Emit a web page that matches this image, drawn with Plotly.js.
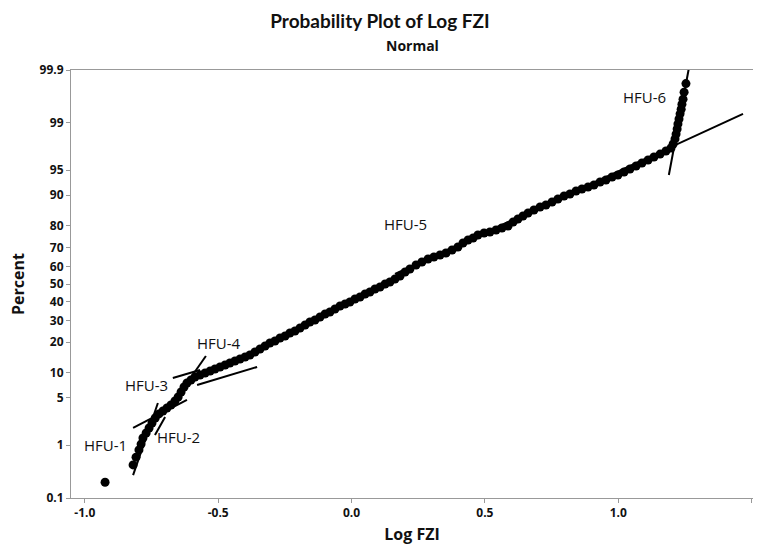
<!DOCTYPE html>
<html>
<head>
<meta charset="utf-8">
<script src="https://cdn.plot.ly/plotly-3.0.1.min.js"></script>
<style>html,body{margin:0;padding:0;background:#fff;}#chart{width:760px;height:547px;}</style>
</head>
<body>
<div id="chart"></div>
<script>
// ---- Data (Log FZI vs cumulative percent) ----
const logFZI = [
  -0.924, -0.819, -0.808, -0.797, -0.789, -0.782, -0.770, -0.759, -0.748, -0.736,
  -0.722, -0.707, -0.692, -0.677, -0.662, -0.650, -0.639, -0.628, -0.617, -0.602,
  -0.587, -0.568, -0.549, -0.530, -0.512, -0.493, -0.474, -0.456, -0.437, -0.418,
  -0.399, -0.381, -0.362, -0.343, -0.324, -0.306, -0.287, -0.268, -0.249, -0.231,
  -0.212, -0.193, -0.174, -0.156, -0.137, -0.118, -0.099, -0.081, -0.062, -0.043,
  -0.024, -0.006, 0.013, 0.032, 0.051, 0.069, 0.088, 0.107, 0.126, 0.144,
  0.163, 0.182, 0.201, 0.219, 0.242, 0.264, 0.287, 0.309, 0.332, 0.354,
  0.377, 0.399, 0.418, 0.437, 0.456, 0.474, 0.497, 0.519, 0.542, 0.564,
  0.587, 0.606, 0.624, 0.643, 0.662, 0.684, 0.707, 0.729, 0.752, 0.774,
  0.797, 0.819, 0.842, 0.864, 0.887, 0.909, 0.932, 0.954, 0.977, 0.999,
  1.022, 1.044, 1.067, 1.089, 1.112, 1.134, 1.157, 1.179, 1.198, 1.206,
  1.213, 1.217, 1.221, 1.224, 1.228, 1.232, 1.236, 1.239, 1.243, 1.247, 1.254
];
const percent = [
  0.21, 0.45, 0.62, 0.83, 1.04, 1.31, 1.57, 1.88, 2.24, 2.65,
  3.03, 3.33, 3.67, 4.03, 4.56, 5.14, 5.95, 6.85, 7.65, 8.29,
  8.97, 9.45, 9.94, 10.46, 10.99, 11.54, 12.10, 12.70, 13.31, 13.94,
  14.60, 15.27, 16.31, 17.41, 18.54, 19.71, 20.53, 21.78, 22.63, 23.97,
  24.86, 26.27, 27.69, 29.15, 30.15, 31.70, 33.25, 34.31, 35.90, 37.53,
  38.63, 39.74, 41.41, 42.56, 44.27, 45.38, 47.13, 48.28, 50.00, 51.15,
  52.87, 54.62, 56.87, 58.59, 60.80, 62.47, 64.10, 65.17, 66.24, 67.29,
  68.83, 70.33, 72.31, 73.73, 74.67, 76.03, 76.92, 77.37, 78.22, 79.07,
  79.87, 81.46, 82.59, 83.69, 84.73, 85.73, 86.69, 87.31, 88.18, 89.01,
  89.81, 90.30, 91.04, 91.50, 91.94, 92.35, 92.96, 93.34, 93.88, 94.22,
  94.71, 95.16, 95.58, 95.97, 96.33, 96.67, 96.97, 97.26, 97.52, 97.84,
  98.19, 98.48, 98.74, 98.96, 99.14, 99.30, 99.42, 99.53, 99.62, 99.72, 99.81
];

// Fitted lines for each hydraulic flow unit: [x1, x2] and [p1, p2]
const fitNames = ["HFU-1", "HFU-2", "HFU-2b", "HFU-3", "HFU-3b", "HFU-4", "HFU-5", "HFU-6"];
const fitX = [
  [-0.819, -0.726],
  [-0.819, -0.617],
  [-0.737, -0.699],
  [-0.643, -0.546],
  [-0.670, -0.568],
  [-0.579, -0.354],
  [0.163, 1.468],
  [1.190, 1.265]
];
const fitP = [
  [0.29, 4.29],
  [1.88, 4.70],
  [1.46, 2.74],
  [5.78, 14.92],
  [8.74, 10.71],
  [7.24, 11.54],
  [55.74, 99.30],
  [94.22, 99.909]
];

// Group labels
const labelText = ["HFU-1", "HFU-2", "HFU-3", "HFU-4", "HFU-5", "HFU-6"];
const labelX = [-0.924, -0.650, -0.770, -0.497, 0.201, 1.100];
const labelP = [1.00, 1.36, 7.24, 19.71, 80.68, 99.65];

// Probability-scale ticks
const tickPercents = [0.1, 1, 5, 10, 20, 30, 40, 50, 60, 70, 80, 90, 95, 99, 99.9];
const tickLabels = ["0.1", "1", "5", "10", "20", "30", "40", "50", "60", "70", "80", "90", "95", "99", "99.9"];
const xTicks = [-1.0, -0.5, 0.0, 0.5, 1.0, 1.5];
const xTickLabels = ["-1.0", "-0.5", "0.0", "0.5", "1.0", "1.5"];

// ---- Normal probability scale (inverse normal CDF, Acklam) ----
function normInv(p) {
  const a = [-3.969683028665376e+01, 2.209460984245205e+02, -2.759285104469687e+02, 1.383577518672690e+02, -3.066479806614716e+01, 2.506628277459239e+00];
  const b = [-5.447609879822406e+01, 1.615858368580409e+02, -1.556989798598866e+02, 6.680131188771972e+01, -1.328068155288572e+01];
  const c = [-7.784894002430293e-03, -3.223964580411365e-01, -2.400758277161838e+00, -2.549671010243050e+00, 4.374664141464968e+00, 2.938163982698783e+00];
  const d = [7.784695709041462e-03, 3.224671290700398e-01, 2.445134137142996e+00, 3.754408661907416e+00];
  const pl = 0.02425, ph = 1 - pl;
  let q, r;
  if (p < pl) {
    q = Math.sqrt(-2 * Math.log(p));
    return (((((c[0]*q+c[1])*q+c[2])*q+c[3])*q+c[4])*q+c[5]) / ((((d[0]*q+d[1])*q+d[2])*q+d[3])*q+1);
  } else if (p <= ph) {
    q = p - 0.5; r = q * q;
    return (((((a[0]*r+a[1])*r+a[2])*r+a[3])*r+a[4])*r+a[5])*q / (((((b[0]*r+b[1])*r+b[2])*r+b[3])*r+b[4])*r+1);
  } else {
    q = Math.sqrt(-2 * Math.log(1 - p));
    return -(((((c[0]*q+c[1])*q+c[2])*q+c[3])*q+c[4])*q+c[5]) / ((((d[0]*q+d[1])*q+d[2])*q+d[3])*q+1);
  }
}
const z = p => normInv(p / 100);

const FONT = "Open Sans, Noto Sans, DejaVu Sans, sans-serif";
const TITLE_FONT = "Lato, Open Sans, sans-serif";
const INK = "#111";

const traces = [];
fitX.forEach((xs, i) => {
  traces.push({
    type: "scatter", mode: "lines", name: fitNames[i],
    x: xs, y: fitP[i].map(z),
    line: {color: "#000", width: 2},
    hoverinfo: "skip", showlegend: false
  });
});
traces.push({
  type: "scatter", mode: "markers", name: "Log FZI",
  x: logFZI, y: percent.map(z),
  marker: {color: "#000", size: 9, symbol: "circle"},
  showlegend: false, cliponaxis: false
});

const zMax = z(99.9), zMin = z(0.1);

const layout = {
  width: 760, height: 547,
  margin: {l: 71, r: 7, t: 70, b: 49, pad: 0},
  paper_bgcolor: "#fff", plot_bgcolor: "#fff",
  showlegend: false,
  font: {family: FONT, color: INK},
  title: {
    text: "<b>Probability Plot of Log FZI</b>",
    x: 0.5, xanchor: "center", xref: "container",
    y: 1 - 21 / 547, yanchor: "middle", yref: "container",
    font: {family: TITLE_FONT, size: 19, color: INK}
  },
  xaxis: {
    range: [-1.0518, 1.5054],
    tickvals: xTicks, ticktext: xTickLabels,
    ticks: "outside", ticklen: 4, tickcolor: "#999", tickwidth: 1,
    showline: true, linecolor: "#999", linewidth: 1, mirror: true,
    showgrid: false, zeroline: false,
    tickfont: {family: FONT, size: 12, color: INK, weight: "bold"},
    title: {text: "<b>Log FZI</b>", font: {family: FONT, size: 16, color: INK}, standoff: 8}
  },
  yaxis: {
    range: [zMin, zMax],
    tickvals: tickPercents.map(z), ticktext: tickLabels,
    ticks: "outside", ticklen: 4, tickcolor: "#999", tickwidth: 1,
    showline: true, linecolor: "#999", linewidth: 1, mirror: false,
    showgrid: false, zeroline: false,
    tickfont: {family: FONT, size: 12, color: INK, weight: "bold"},
    title: {text: "<b>Percent</b>", font: {family: FONT, size: 16, color: INK}, standoff: 10}
  },
  annotations: [
    {
      text: "<b>Normal</b>", xref: "paper", yref: "paper",
      x: 0.5, y: (498 - 45) / 428, xanchor: "center", yanchor: "middle",
      showarrow: false, font: {family: FONT, size: 14, color: INK}
    }
  ].concat(labelText.map((t, i) => ({
    text: t, x: labelX[i], y: z(labelP[i]), xref: "x", yref: "y",
    showarrow: false, xanchor: "center", yanchor: "middle",
    font: {family: FONT, size: 15, color: INK}
  })))
};

Plotly.newPlot("chart", traces, layout, {displayModeBar: false, staticPlot: true});
</script>
</body>
</html>
